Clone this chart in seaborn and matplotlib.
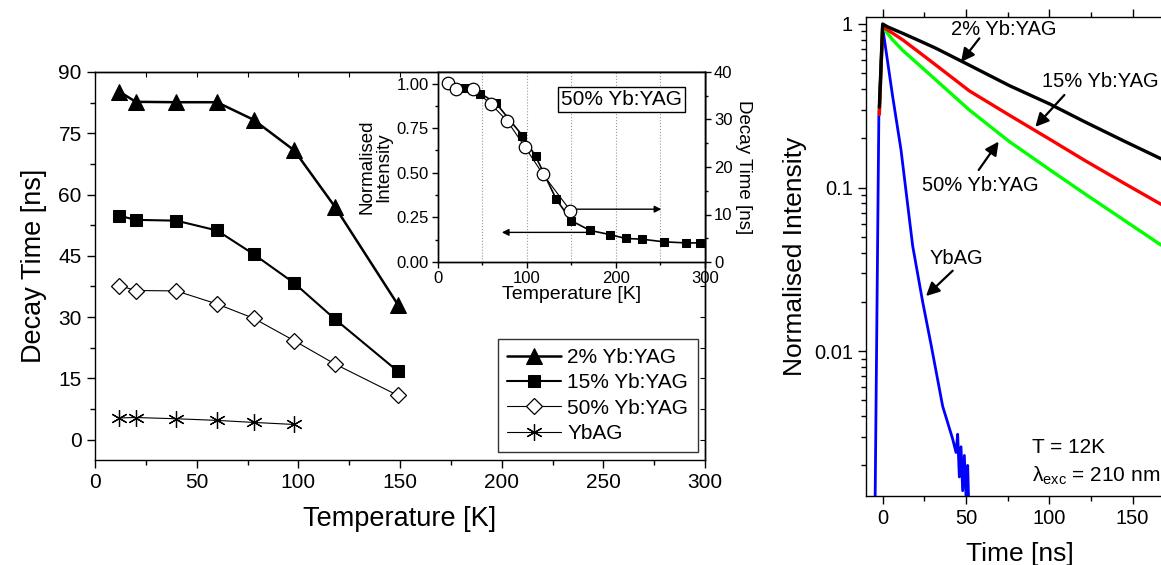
import matplotlib
matplotlib.use("Agg")
import matplotlib.pyplot as plt
from matplotlib.ticker import MultipleLocator, FixedLocator, LogLocator, NullFormatter, FormatStrFormatter
import seaborn as sns

# --- main panel: decay time vs temperature ---
temp_k = [12, 20, 40, 60, 78, 98, 118, 149]
tau_2 = [85.2, 82.7, 82.6, 82.6, 78.3, 70.8, 57.0, 33.0]
tau_15 = [54.8, 53.8, 53.6, 51.2, 45.4, 38.3, 29.5, 16.7]
tau_50 = [37.7, 36.5, 36.4, 33.2, 29.7, 24.2, 18.5, 10.8]
temp_ybag = [12, 20, 40, 60, 78, 98]
tau_ybag = [5.3, 5.4, 5.1, 4.7, 4.2, 3.7]

# --- inset: 50% Yb:YAG normalised intensity ---
temp_int = [12, 31, 48, 65, 95, 110, 133, 150, 171, 193, 211, 229, 254, 279, 294]
norm_int = [1.00, 0.973, 0.944, 0.893, 0.709, 0.592, 0.352, 0.231, 0.177, 0.154,
            0.132, 0.128, 0.113, 0.107, 0.107]

# --- right panel: decay curves at 12 K ---
t_2 = [-2, 0, 3, 12, 22, 32, 52, 76, 100, 121, 145, 167]
i_2 = [0.31, 1.0, 0.96, 0.877, 0.79, 0.71, 0.56, 0.42, 0.325, 0.253, 0.192, 0.15]
t_15 = [-2, 0, 3, 12, 22, 32, 52, 76, 100, 121, 145, 167]
i_15 = [0.28, 0.97, 0.92, 0.80, 0.67, 0.56, 0.39, 0.277, 0.198, 0.147, 0.106, 0.079]
t_50 = [-2, 0, 2, 6, 12, 22, 32, 52, 76, 100, 121, 145, 167]
i_50 = [0.29, 0.97, 0.90, 0.80, 0.69, 0.56, 0.454, 0.298, 0.191, 0.129, 0.092, 0.063, 0.0445]
t_ybag = [-4.5, -2.3, 0, 6, 11, 18, 24, 29, 36, 42, 44, 45, 46, 47, 48, 49, 50, 51, 51.5]
i_ybag = [0.0013, 0.27, 0.95, 0.36, 0.17, 0.044, 0.020, 0.011, 0.0046, 0.0029,
          0.0024, 0.0031, 0.0017, 0.0026, 0.0014, 0.0023, 0.0013, 0.0020, 0.0013]

sns.set_style("ticks")
plt.rcParams['font.family'] = ['Liberation Sans', 'DejaVu Sans']
plt.rcParams['axes.linewidth'] = 1.0
for key in ['axes.edgecolor', 'text.color', 'axes.labelcolor', 'xtick.color', 'ytick.color']:
    plt.rcParams[key] = 'black'

W, H = 1161, 565
fig = plt.figure(figsize=(W / 100, H / 100), dpi=100)


def box(l, t, r, b):
    return [l / W, (H - b) / H, (r - l) / W, (b - t) / H]


# ---------------- main panel ----------------
ax = fig.add_axes(box(95, 72, 705, 460))
sns.lineplot(x=temp_k, y=tau_2, ax=ax, color='black', lw=1.8, marker='^', markersize=11,
             markeredgecolor='black', markerfacecolor='black', errorbar=None, label='2% Yb:YAG')
sns.lineplot(x=temp_k, y=tau_15, ax=ax, color='black', lw=1.5, marker='s', markersize=8.5,
             markeredgecolor='black', markerfacecolor='black', errorbar=None, label='15% Yb:YAG')
sns.lineplot(x=temp_k, y=tau_50, ax=ax, color='black', lw=0.8, marker='D', markersize=8.5,
             markeredgecolor='black', markerfacecolor='white', markeredgewidth=0.9,
             errorbar=None, label='50% Yb:YAG')
sns.lineplot(x=temp_ybag, y=tau_ybag, ax=ax, color='black', lw=0.8, marker=(6, 2, 0), markersize=12,
             markeredgecolor='black', markeredgewidth=0.9, errorbar=None, label='YbAG')
ax.set_xlim(0, 300)
ax.set_ylim(-5, 90)
ax.xaxis.set_major_locator(MultipleLocator(50))
ax.xaxis.set_minor_locator(MultipleLocator(25))
ax.yaxis.set_major_locator(MultipleLocator(15))
ax.yaxis.set_minor_locator(MultipleLocator(7.5))
ax.tick_params(which='major', direction='out', length=6, width=1, labelsize=15)
ax.tick_params(which='minor', direction='out', length=3.5, width=1)
ax.set_xlabel('Temperature [K]', fontsize=19.5, labelpad=10)
ax.set_ylabel('Decay Time [ns]', fontsize=19.5, labelpad=8)
for side in ['top', 'right']:
    ax.spines[side].set_visible(True)
sec_top = ax.secondary_xaxis('top')
sec_top.xaxis.set_major_locator(MultipleLocator(25))
sec_top.tick_params(direction='in', length=3.5, labeltop=False)
sec_right = ax.secondary_yaxis('right')
sec_right.yaxis.set_major_locator(MultipleLocator(7.5))
sec_right.tick_params(direction='in', length=3.5, labelright=False)
leg = ax.legend(loc='lower right', bbox_to_anchor=(0.988, 0.02), borderaxespad=0, fontsize=15,
                handlelength=2.6, labelspacing=0.3, handletextpad=0.3, fancybox=False,
                frameon=True, edgecolor='black', borderpad=0.45)
leg.get_frame().set_linewidth(1.0)

# ---------------- inset ----------------
axi = fig.add_axes(box(437.7, 72, 705, 262))
sns.lineplot(x=temp_int, y=norm_int, ax=axi, color='black', lw=1.2, marker='s', markersize=6,
             markeredgecolor='black', markerfacecolor='black', errorbar=None)
axi.set_xlim(0, 300)
axi.set_ylim(0, 1.065)
axi.xaxis.set_major_locator(MultipleLocator(100))
axi.xaxis.set_minor_locator(MultipleLocator(50))
axi.yaxis.set_major_locator(MultipleLocator(0.25))
axi.yaxis.set_major_formatter(FormatStrFormatter('%.2f'))
axi.yaxis.set_minor_locator(MultipleLocator(0.125))
axi.grid(True, which='both', axis='x', color='#999999', linestyle=':', linewidth=0.8)
axi.tick_params(which='major', direction='out', length=4.5, width=1, labelsize=12, pad=2)
axi.tick_params(which='minor', direction='out', length=2.5, width=1)
axi.set_xlabel('Temperature [K]', fontsize=14, labelpad=0)
axi.set_ylabel('Normalised\nIntensity', fontsize=13.5, labelpad=3, linespacing=1.0)
axi.annotate('', xy=(72, 0.166), xytext=(172, 0.166),
             arrowprops=dict(arrowstyle='-|>', color='black', lw=1.0, mutation_scale=10,
                             shrinkA=0, shrinkB=0))
axi.annotate('', xy=(251, 0.296), xytext=(154, 0.296),
             arrowprops=dict(arrowstyle='-|>', color='black', lw=1.0, mutation_scale=10,
                             shrinkA=0, shrinkB=0))
axi.text(0.686, 0.855, '50% Yb:YAG', transform=axi.transAxes, fontsize=15, ha='center', va='center',
         bbox=dict(boxstyle='square,pad=0.15', facecolor='white', edgecolor='black', linewidth=1.0))

axt = axi.twinx()
sns.lineplot(x=temp_k, y=tau_50, ax=axt, color='black', lw=0.8, marker='o', markersize=9,
             markeredgecolor='black', markerfacecolor='white', markeredgewidth=0.9, errorbar=None)
axt.set_ylim(0, 40)
axt.yaxis.set_major_locator(MultipleLocator(10))
axt.yaxis.set_minor_locator(MultipleLocator(5))
axt.tick_params(which='major', direction='out', length=4.5, width=1, labelsize=12, pad=2)
axt.tick_params(which='minor', direction='out', length=2.5, width=1)
axt.set_ylabel('Decay Time [ns]', fontsize=13.5, rotation=270, labelpad=14)

# ---------------- right panel ----------------
ax2 = fig.add_axes(box(866, 16.7, 866 + 185 * 1.6667, 496))
ax2.set_yscale('log')
sns.lineplot(x=t_ybag, y=i_ybag, ax=ax2, color='#0000ff', lw=2.0, errorbar=None, sort=False)
sns.lineplot(x=t_50, y=i_50, ax=ax2, color='#00ff00', lw=2.4, errorbar=None, sort=False)
sns.lineplot(x=t_15, y=i_15, ax=ax2, color='#ff0000', lw=2.4, errorbar=None, sort=False)
sns.lineplot(x=t_2, y=i_2, ax=ax2, color='black', lw=2.4, errorbar=None, sort=False)
ax2.set_xlim(-10, 175)
ax2.set_ylim(0.0013, 1.108)
ax2.xaxis.set_major_locator(MultipleLocator(50))
ax2.xaxis.set_minor_locator(MultipleLocator(25))
ax2.yaxis.set_major_locator(FixedLocator([0.01, 0.1, 1]))
ax2.set_yticklabels(['0.01', '0.1', '1'])
ax2.yaxis.set_minor_locator(LogLocator(base=10, subs=range(2, 10)))
ax2.yaxis.set_minor_formatter(NullFormatter())
ax2.tick_params(which='major', direction='out', length=6, width=1, labelsize=14.5, top=True)
ax2.tick_params(which='minor', direction='out', length=3.5, width=1, top=True)
ax2.spines['top'].set_visible(True)
ax2.spines['right'].set_visible(True)
ax2.set_xlabel('Time [ns]', fontsize=19, labelpad=10)
ax2.set_ylabel('Normalised Intensity', fontsize=19, labelpad=5)

arrow_kw = dict(arrowstyle='-|>', color='black', lw=1.6, mutation_scale=20, shrinkA=0, shrinkB=0)
ax2.annotate('', xy=(47, 0.585), xytext=(58, 0.817), arrowprops=arrow_kw)
ax2.annotate('', xy=(91.6, 0.235), xytext=(109, 0.368), arrowprops=arrow_kw)
ax2.annotate('', xy=(69.6, 0.191), xytext=(57.6, 0.128), arrowprops=arrow_kw)
ax2.annotate('', xy=(26, 0.0217), xytext=(42, 0.031), arrowprops=arrow_kw)
ax2.text(72.7, 0.919, '2% Yb:YAG', fontsize=14.5, ha='center', va='center')
ax2.text(130.5, 0.444, '15% Yb:YAG', fontsize=14.5, ha='center', va='center')
ax2.text(58.5, 0.1024, '50% Yb:YAG', fontsize=14.5, ha='center', va='center')
ax2.text(44, 0.0369, 'YbAG', fontsize=14.5, ha='center', va='center')
ax2.text(89.8, 0.00257, 'T = 12K', fontsize=15, ha='left', va='center')
ax2.text(89.8, 0.00172, r'λ$_{\mathregular{exc}}$ = 210 nm', fontsize=15, ha='left', va='center')

fig.savefig('out.png', dpi=100)
